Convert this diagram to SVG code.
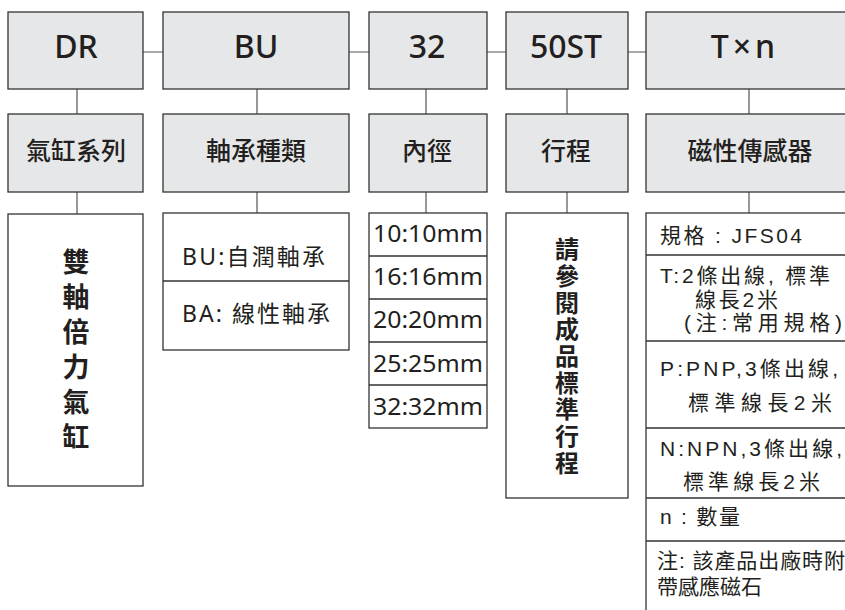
<svg xmlns="http://www.w3.org/2000/svg" width="845" height="610" viewBox="0 0 845 610">
<style>
.hd{fill:#e6e7e8;stroke:#333;stroke-width:1.3}
.bx{fill:#fff;stroke:#333;stroke-width:1.3}
.dv{stroke:#333;stroke-width:1.3;fill:none}
.cn{stroke:#555;stroke-width:1.2;fill:none}
.t1{font-family:"Noto Sans","Liberation Sans",sans-serif;font-size:32px;font-weight:500;fill:#231f20;text-anchor:middle}
.t2{font-family:"Noto Sans CJK TC","Noto Sans",sans-serif;font-size:25px;font-weight:500;fill:#231f20;text-anchor:middle}
.tv{font-family:"Noto Sans CJK TC",sans-serif;font-weight:700;fill:#231f20;writing-mode:vertical-rl}
.tb{font-family:"Noto Sans","Noto Sans CJK TC",sans-serif;font-size:23px;fill:#231f20}
.tm{font-family:"Noto Sans","Liberation Sans",sans-serif;font-size:24px;fill:#231f20}
.ts{font-family:"Liberation Sans","Noto Sans CJK TC",sans-serif;font-size:21px;fill:#231f20}
</style>
<g id="connectors">
<path class="cn" d="M143 52H163M349 52H369M487 52H506M628 52H646"/>
<path class="cn" d="M77 89V114M257 89V114M426 89V114M567 89V114M749 89V114"/>
<path class="cn" d="M77 192V214M257 192V213M426 192V213M567 192V213M749 192V213"/>
</g>
<g id="n-dr"><rect class="hd" x="8" y="12" width="135" height="77"/><text class="t1" x="76" y="58">DR</text></g>
<g id="n-bu"><rect class="hd" x="163" y="12" width="186" height="77"/><text class="t1" x="256" y="58">BU</text></g>
<g id="n-32"><rect class="hd" x="369" y="12" width="118" height="77"/><text class="t1" x="427" y="58">32</text></g>
<g id="n-50st"><rect class="hd" x="506" y="12" width="122" height="77"/><text class="t1" x="566" y="58">50ST</text></g>
<g id="n-txn"><rect class="hd" x="646" y="12" width="210" height="77"/><text class="t1" x="745" y="58" letter-spacing="4">T×n</text></g>

<g id="l-series"><rect class="hd" x="8" y="114" width="135" height="78"/><text class="t2" x="76" y="160">氣缸系列</text></g>
<g id="l-bearing"><rect class="hd" x="163" y="114" width="186" height="78"/><text class="t2" x="256" y="160">軸承種類</text></g>
<g id="l-bore"><rect class="hd" x="369" y="114" width="118" height="78"/><text class="t2" x="427" y="160">內徑</text></g>
<g id="l-stroke"><rect class="hd" x="506" y="114" width="122" height="78"/><text class="t2" x="566" y="160">行程</text></g>
<g id="l-sensor"><rect class="hd" x="646" y="114" width="210" height="78"/><text class="t2" x="750" y="160">磁性傳感器</text></g>

<g id="d-series"><rect class="bx" x="8" y="214" width="135" height="272"/>
<text class="tv" font-size="27" x="76" y="248" letter-spacing="8">雙軸倍力氣缸</text></g>

<g id="d-bearing"><rect class="bx" x="163" y="213" width="186" height="137"/>
<path class="dv" d="M163 281H349"/>
<text class="tb" x="182" y="265" textLength="143" lengthAdjust="spacing">BU:自潤軸承</text>
<text class="tb" x="182" y="322" textLength="148" lengthAdjust="spacing">BA: 線性軸承</text>
</g>

<g id="d-bore"><rect class="bx" x="369" y="213" width="118" height="215"/>
<path class="dv" d="M369 256H487M369 299H487M369 342H487M369 385H487"/>
<text class="tm" x="373" y="242" textLength="110" lengthAdjust="spacingAndGlyphs">10:10mm</text>
<text class="tm" x="373" y="285" textLength="110" lengthAdjust="spacingAndGlyphs">16:16mm</text>
<text class="tm" x="373" y="328" textLength="110" lengthAdjust="spacingAndGlyphs">20:20mm</text>
<text class="tm" x="373" y="372" textLength="110" lengthAdjust="spacingAndGlyphs">25:25mm</text>
<text class="tm" x="373" y="415" textLength="110" lengthAdjust="spacingAndGlyphs">32:32mm</text>
</g>

<g id="d-stroke"><rect class="bx" x="506" y="213" width="122" height="285"/>
<text class="tv" font-size="24" x="567" y="237" letter-spacing="2.7">請參閱成品標準行程</text></g>

<g id="d-sensor"><rect class="bx" x="646" y="213" width="210" height="410"/>
<path class="dv" d="M646 255H856M646 341H856M646 428H856M646 498H856M646 541H856"/>
<text class="ts" x="660" y="243" textLength="142" lengthAdjust="spacing">規格 : JFS04</text>
<text class="ts" x="660" y="283" textLength="170" lengthAdjust="spacing">T:2條出線, 標準</text>
<text class="ts" x="695" y="307" textLength="83" lengthAdjust="spacing">線長2米</text>
<text class="ts" x="684" y="330" textLength="158" lengthAdjust="spacing">(注:常用規格)</text>
<text class="ts" x="660" y="376" textLength="178" lengthAdjust="spacing">P:PNP,3條出線,</text>
<text class="ts" x="688" y="410" font-size="22" textLength="144" lengthAdjust="spacing">標準線長2米</text>
<text class="ts" x="660" y="456" textLength="182" lengthAdjust="spacing">N:NPN,3條出線,</text>
<text class="ts" x="683" y="489" font-size="22" textLength="137" lengthAdjust="spacing">標準線長2米</text>
<text class="ts" x="660" y="524" textLength="80" lengthAdjust="spacing">n : 數量</text>
<text class="ts" x="657" y="568" textLength="188" lengthAdjust="spacing">注: 該產品出廠時附</text>
<text class="ts" x="657" y="594">帶感應磁石</text>
</g>
</svg>
